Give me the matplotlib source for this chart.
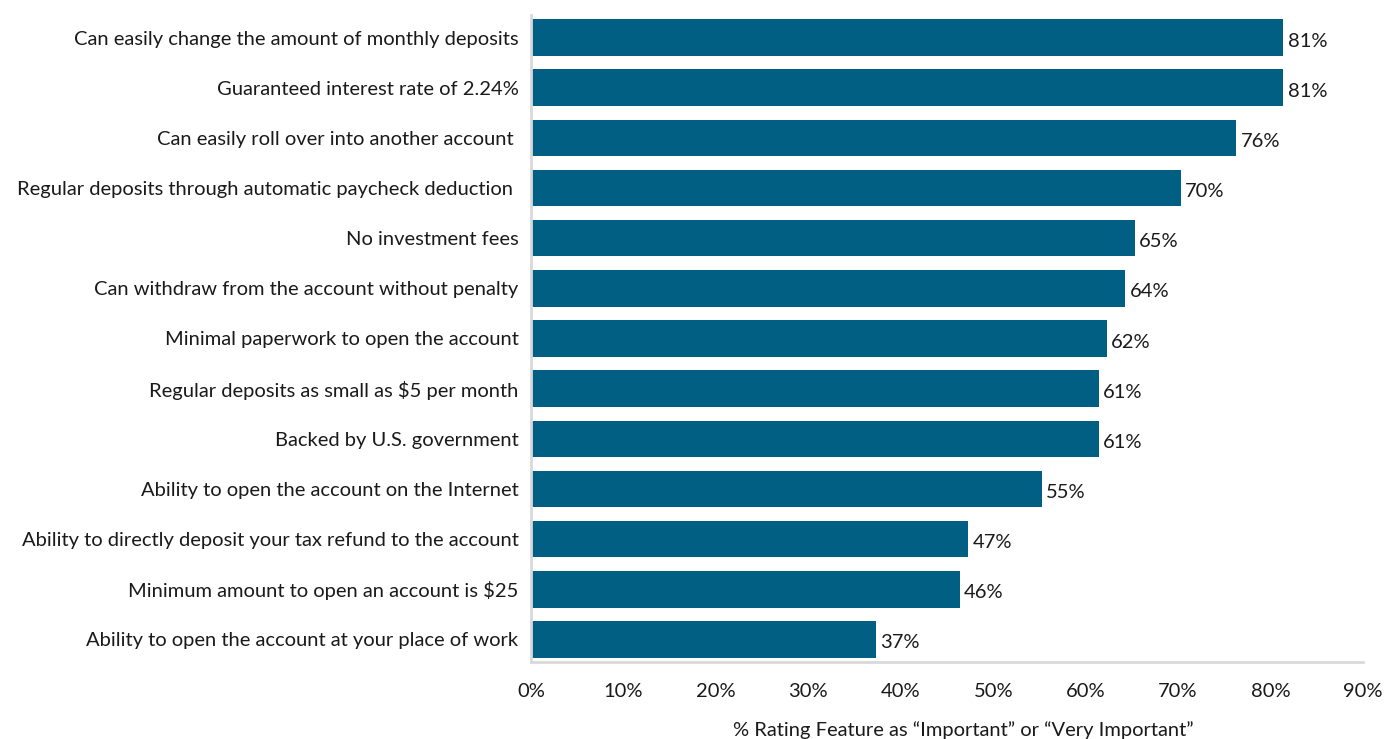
import matplotlib

matplotlib.use("Agg")

import matplotlib.pyplot as plt

features = [
    "Can easily change the amount of monthly deposits",
    "Guaranteed interest rate of 2.24%",
    "Can easily roll over into another account ",
    "Regular deposits through automatic paycheck deduction ",
    "No investment fees",
    "Can withdraw from the account without penalty",
    "Minimal paperwork to open the account",
    "Regular deposits as small as $5 per month",
    "Backed by U.S. government",
    "Ability to open the account on the Internet",
    "Ability to directly deposit your tax refund to the account",
    "Minimum amount to open an account is $25",
    "Ability to open the account at your place of work",
]
shares = [81.4, 81.4, 76.3, 70.3, 65.3, 64.3, 62.3, 61.4, 61.4, 55.3, 47.3, 46.4, 37.3]
value_labels = ["81%", "81%", "76%", "70%", "65%", "64%", "62%", "61%", "61%",
                "55%", "47%", "46%", "37%"]
xticks = [0, 10, 20, 30, 40, 50, 60, 70, 80, 90]

plt.rcParams["font.family"] = ["Lato", "DejaVu Sans"]
FS = 14.5

fig = plt.figure(figsize=(13.86, 7.39), dpi=100)
ax = fig.add_axes([531 / 1386, 1 - 662 / 739, (1363 - 531) / 1386, (662 - 15) / 739])

ypos = list(range(len(features)))
ax.barh(ypos, shares, height=0.73, color="#005f83")
for y, v, lab in zip(ypos, shares, value_labels):
    ax.text(v + 0.45, y + 0.07, lab, va="center", ha="left", fontsize=FS, color="#1a1a1a")

ax.set_ylim(12.45, -0.45)
ax.set_xlim(0, 90)
ax.set_yticks(ypos)
ax.set_yticklabels(features, fontsize=FS, color="#1a1a1a")
ax.set_xticks(xticks)
ax.set_xticklabels([f"{t}%" for t in xticks], fontsize=FS, color="#1a1a1a")
ax.tick_params(length=0)
ax.tick_params(axis="y", pad=9)
ax.tick_params(axis="x", pad=15)

for side in ("top", "right"):
    ax.spines[side].set_visible(False)
for side in ("left", "bottom"):
    ax.spines[side].set_color("#d9d9d9")
    ax.spines[side].set_linewidth(2)

fig.text(963 / 1386, 1 - 730 / 739,
         "% Rating Feature as \u201cImportant\u201d or \u201cVery Important\u201d",
         ha="center", va="center", fontsize=FS, color="#1a1a1a")

fig.savefig("out.png", dpi=100)
